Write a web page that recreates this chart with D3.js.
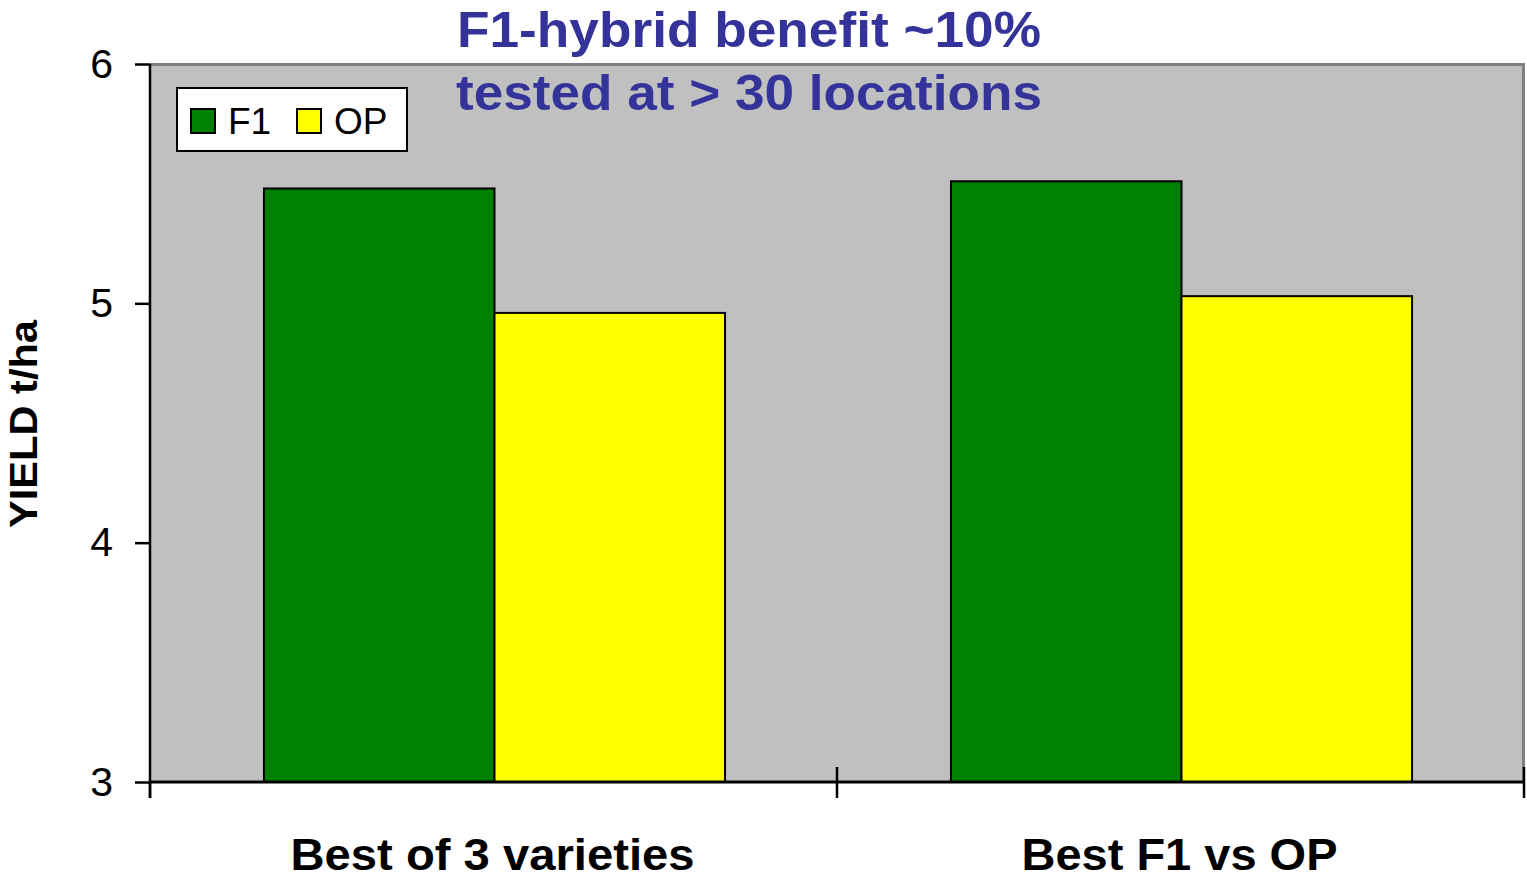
<!DOCTYPE html>
<html>
<head>
<meta charset="utf-8">
<script src="https://cdn.jsdelivr.net/npm/d3@7"></script>
<style>
  body { margin: 0; background: #fff; }
  svg { display: block; font-family: "Liberation Sans", Arial, sans-serif; }
</style>
</head>
<body>
<svg id="chart" width="1527" height="879"></svg>
<script>
'use strict';

const categories = ['Best of 3 varieties', 'Best F1 vs OP'];
const seriesNames = ['F1', 'OP'];
const f1Values = [5.48, 5.51];
const opValues = [4.96, 5.03];
const yTicks = [3, 4, 5, 6];
const titleLines = ['F1-hybrid benefit ~10%', 'tested at > 30 locations'];
const colors = ['#008000', '#FFFF00'];

const svg = d3.select('#chart');
const margin = { left: 150, top: 64, right: 3, bottom: 97 };
const width = 1527 - margin.left - margin.right;
const height = 879 - margin.top - margin.bottom;

const x = d3.scaleBand().domain(categories).range([0, width]);
const xInner = d3.scaleBand().domain(seriesNames)
    .range([0, x.bandwidth()]).paddingOuter(0.49);
const y = d3.scaleLinear().domain([3, 6]).range([height, 0]);

const g = svg.append('g').attr('transform', `translate(${margin.left},${margin.top})`);

// plot area
g.append('rect')
    .attr('width', width).attr('height', height)
    .attr('fill', '#C0C0C0');
g.append('path')
    .attr('d', `M0,0.5H${width - 0.5}V${height}`)
    .attr('fill', 'none').attr('stroke', '#808080').attr('stroke-width', 3);

// bars
const rows = categories.map((c, i) => ({ cat: c, vals: [f1Values[i], opValues[i]] }));
g.selectAll('.grp')
    .data(rows)
    .enter().append('g')
    .attr('transform', d => `translate(${x(d.cat) + 1},0)`)
    .selectAll('rect')
    .data(d => d.vals.map((v, i) => ({ name: seriesNames[i], value: v })))
    .enter().append('rect')
    .attr('x', d => xInner(d.name))
    .attr('y', d => y(d.value))
    .attr('width', xInner.bandwidth())
    .attr('height', d => height - y(d.value))
    .attr('fill', (d, i) => colors[i])
    .attr('stroke', '#000').attr('stroke-width', 2);

// y axis
const yAxis = g.append('g')
    .call(d3.axisLeft(y).tickValues(yTicks).tickFormat(d3.format('d')).tickSize(15).tickPadding(22));
yAxis.select('.domain').remove();
yAxis.selectAll('.tick line').attr('stroke', '#000').attr('stroke-width', 2.5);
yAxis.selectAll('.tick text').attr('font-size', 41).attr('fill', '#000');
g.append('line')
    .attr('x1', 0).attr('x2', 0).attr('y1', 0).attr('y2', height + 16)
    .attr('stroke', '#000').attr('stroke-width', 2.5);

// x axis
g.append('line')
    .attr('x1', 0).attr('x2', width).attr('y1', height).attr('y2', height)
    .attr('stroke', '#000').attr('stroke-width', 3);
const bounds = categories.map(c => x(c)).concat([width]);
g.selectAll('.xtick')
    .data(bounds)
    .enter().append('line')
    .attr('x1', d => d).attr('x2', d => d)
    .attr('y1', (d, i) => i === 0 ? height : height - 15)
    .attr('y2', height + 16)
    .attr('stroke', '#000').attr('stroke-width', 2.5);
const labelLen = [404, 316];
g.selectAll('.xlab')
    .data(categories)
    .enter().append('text')
    .attr('x', d => x(d) + x.bandwidth() / 2 - 1)
    .attr('y', height + 88)
    .attr('text-anchor', 'middle')
    .attr('font-size', 45).attr('font-weight', 'bold')
    .attr('textLength', (d, i) => labelLen[i])
    .attr('lengthAdjust', 'spacingAndGlyphs')
    .text(d => d);

// y axis title
svg.append('text')
    .attr('transform', 'translate(37,424) rotate(-90)')
    .attr('text-anchor', 'middle')
    .attr('font-size', 38).attr('font-weight', 'bold')
    .attr('textLength', 208)
    .attr('lengthAdjust', 'spacingAndGlyphs')
    .text('YIELD t/ha');

// title
const titleLen = [584, 586];
svg.selectAll('.title')
    .data(titleLines)
    .enter().append('text')
    .attr('x', 749)
    .attr('y', (d, i) => 47 + i * 63)
    .attr('text-anchor', 'middle')
    .attr('font-size', 50).attr('font-weight', 'bold')
    .attr('fill', '#333399')
    .attr('textLength', (d, i) => titleLen[i])
    .attr('lengthAdjust', 'spacingAndGlyphs')
    .text(d => d);

// legend
const leg = svg.append('g').attr('transform', 'translate(177,88)');
leg.append('rect')
    .attr('width', 230).attr('height', 63)
    .attr('fill', '#fff').attr('stroke', '#000').attr('stroke-width', 2);
const item = leg.selectAll('.item')
    .data(seriesNames)
    .enter().append('g')
    .attr('transform', (d, i) => `translate(${14 + i * 106},21)`);
item.append('rect')
    .attr('width', 24).attr('height', 24)
    .attr('fill', (d, i) => colors[i])
    .attr('stroke', '#000').attr('stroke-width', 2);
item.append('text')
    .attr('x', 37).attr('y', 25)
    .attr('font-size', 37)
    .text(d => d);
</script>
</body>
</html>
